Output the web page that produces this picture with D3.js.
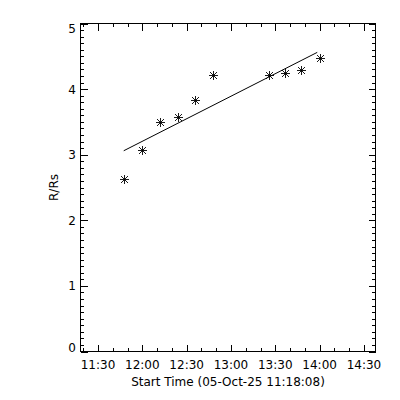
<!DOCTYPE html>
<html><head><meta charset="utf-8">
<script src="https://cdn.jsdelivr.net/npm/d3@7"></script>
<style>
html,body{margin:0;padding:0;background:#fff;}
svg{display:block;}
text{font-family:"DejaVu Sans",sans-serif;font-size:12px;fill:#000;}
</style></head>
<body>
<svg id="c" width="400" height="400"></svg>
<script>
// ---- data ----
const day = "2025-10-05";
const xDomain = ["11:18:08", "14:37:50"];
const times = ["11:47:24","11:59:36","12:11:42","12:24:06","12:35:36","12:47:48","13:26:00","13:36:30","13:47:36","14:00:00"];
const values = [2.63, 3.07, 3.50, 3.58, 3.83, 4.21, 4.22, 4.24, 4.29, 4.48];
const fitTimes = ["11:47:24", "13:58:24"];
const fitValues = [3.06, 4.56];
const xTickLabels = ["11:30","12:00","12:30","13:00","13:30","14:00","14:30"];
const yTicks = [0, 1, 2, 3, 4, 5];
const xTitle = "Start Time (05-Oct-25 11:18:08)";
const yTitle = "R/Rs";

const parse = t => new Date(day + "T" + t);
const L = 80.5, R = 375.5, T = 23.5, B = 351.5;

const svg = d3.select("#c");
const x = d3.scaleTime().domain(xDomain.map(parse)).range([L, R]);
const y = d3.scaleLinear().domain([0, 5]).range([B, T]);

const majorX = xTickLabels.map(parse);
const minorX = d3.timeMinute.every(10).range(parse("11:20:00"), parse("14:38:00")).filter(d => d.getMinutes() % 30 !== 0);
const minorY = d3.range(0, 50).map(i => i / 10).filter(v => Math.abs(v - Math.round(v)) > 1e-6);

const g = svg.append("g").attr("shape-rendering", "crispEdges");
// frame
g.append("rect").attr("x", L).attr("y", T).attr("width", R - L).attr("height", B - T)
  .attr("fill", "none").attr("stroke", "#000").attr("stroke-width", 1);

function tickLines(sel, data, fn) {
  sel.selectAll(null).data(data).enter().append("line").each(function(d){
    const c = fn(d); d3.select(this).attr("x1", c[0]).attr("y1", c[1]).attr("x2", c[2]).attr("y2", c[3]);
  }).attr("stroke", "#000").attr("stroke-width", 1);
}
const ML = 7, mL = 3.5;
const xr = d => Math.round(x(d)) + 0.5;
const yr = d => Math.round(y(d)) + 0.5;
tickLines(g, majorX, d => [xr(d), B, xr(d), B - ML]);
tickLines(g, majorX, d => [xr(d), T, xr(d), T + ML]);
tickLines(g, minorX, d => [xr(d), B, xr(d), B - mL]);
tickLines(g, minorX, d => [xr(d), T, xr(d), T + mL]);
tickLines(g, yTicks, d => [L, yr(d), L + ML, yr(d)]);
tickLines(g, yTicks, d => [R, yr(d), R - ML, yr(d)]);
tickLines(g, minorY, d => [L, yr(d), L + mL, yr(d)]);
tickLines(g, minorY, d => [R, yr(d), R - mL, yr(d)]);

// tick labels
svg.selectAll(".xl").data(majorX).enter().append("text")
  .attr("x", d => x(d)).attr("y", 369).attr("text-anchor", "middle")
  .text((d, i) => xTickLabels[i]);
svg.selectAll(".yl").data(yTicks).enter().append("text")
  .attr("x", 76).attr("y", d => Math.max(T + 5, Math.min(B - 4, y(d))) + 4.5)
  .attr("text-anchor", "end").text(d => d);

// titles
svg.append("text").attr("x", (L + R) / 2).attr("y", 386).attr("text-anchor", "middle").text(xTitle);
svg.append("text").attr("transform", `translate(58,${(T + B) / 2}) rotate(-90)`)
  .attr("text-anchor", "middle").text(yTitle);

// fit line
const line = d3.line().x(d => x(parse(d[0]))).y(d => y(d[1]));
svg.append("path").datum(fitTimes.map((t, i) => [t, fitValues[i]]))
  .attr("d", line).attr("fill", "none").attr("stroke", "#000").attr("stroke-width", 1);

// asterisks
const r = 4.5, rd = 3.5;
const starPath = `M${-r},0H${r}M0,${-r}V${r}M${-rd},${-rd}L${rd},${rd}M${-rd},${rd}L${rd},${-rd}`;
svg.selectAll(".pt").data(times.map((t, i) => [t, values[i]])).enter().append("path")
  .attr("transform", d => `translate(${Math.round(x(parse(d[0])))+0.5},${Math.round(y(d[1]))+0.5})`)
  .attr("d", starPath).attr("fill", "none").attr("stroke", "#000").attr("stroke-width", 0.9)
  .attr("shape-rendering", "crispEdges");
</script>
</body></html>
